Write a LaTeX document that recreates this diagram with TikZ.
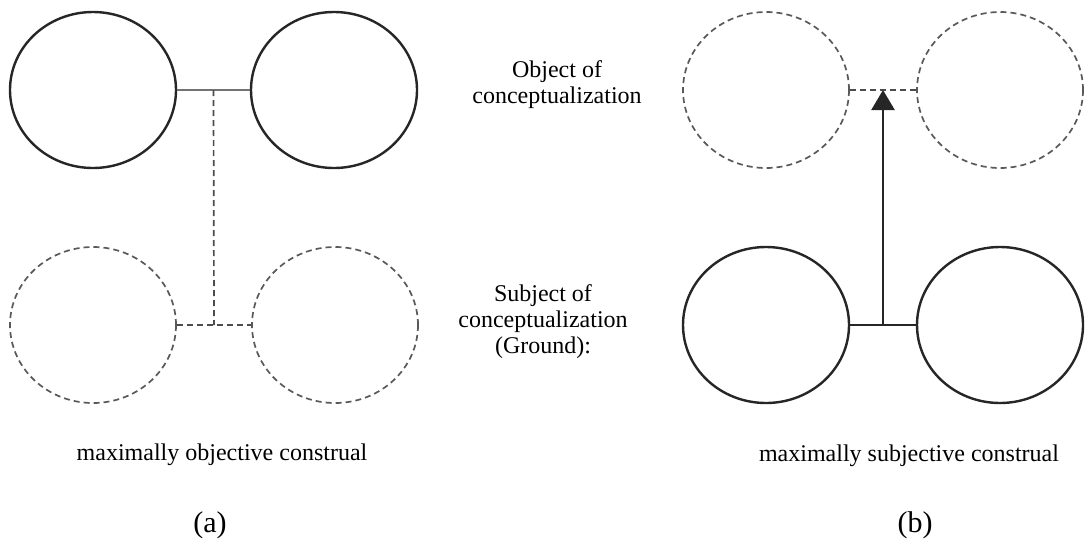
\documentclass[tikz,border=0pt]{standalone}
\usepackage{fontspec}
\setmainfont{Liberation Serif}
\usepackage{tikz}
\usetikzlibrary{arrows.meta,positioning,calc,shapes.geometric}

\begin{document}
\begin{tikzpicture}[
  x=0.5pt, y=-0.5pt,
  solidell/.style={draw=black!85, line width=1.2pt, ellipse, inner sep=0pt,
    minimum width=83pt, minimum height=78pt},
  dashell/.style={draw=black!65, line width=0.85pt, dash pattern=on 3pt off 2pt,
    ellipse, inner sep=0pt, minimum width=83pt, minimum height=78pt},
  thinlink/.style={draw=black!55, line width=0.9pt},
  dashlink/.style={draw=black!70, line width=0.85pt, dash pattern=on 3pt off 2pt},
  boldlink/.style={draw=black!85, line width=1.4pt},
  arr/.style={-{Triangle[length=10pt, width=11.5pt]}, draw=black!85, line width=1.2pt},
  lbl/.style={align=center, font=\fontsize{12}{13}\selectfont},
  tag/.style={font=\fontsize{15}{17}\selectfont}
]
\useasboundingbox (0,0) rectangle (1085,541);

% (a) maximally objective
\node[solidell] (atl) at (93,90)   {};
\node[solidell] (atr) at (334,90)  {};
\node[dashell]  (abl) at (93,325)  {};
\node[dashell]  (abr) at (335,325) {};
\coordinate (amidtop) at ($(atl.east)!0.5!(atr.west)$);
\coordinate (amidbot) at ($(abl.east)!0.5!(abr.west)$);

\draw[thinlink] (atl.east) -- (atr.west);
\draw[dashlink] (abl.east) -- (abr.west);
\draw[dashlink] (amidtop) -- (amidbot);

% (b) maximally subjective
\node[dashell]  (btl) at (766,90)   {};
\node[dashell]  (btr) at (1000,90)  {};
\node[solidell] (bbl) at (766,325)  {};
\node[solidell] (bbr) at (1000,325) {};
\coordinate (bmidtop) at ($(btl.east)!0.5!(btr.west)$);
\coordinate (bmidbot) at ($(bbl.east)!0.5!(bbr.west)$);

\draw[dashlink] (btl.east) -- (btr.west);
\draw[boldlink] (bbl.east) -- (bbr.west);
\draw[arr] (bmidbot) -- (bmidtop);

% labels
\node[lbl] (obj) at (557,85)  {Object of\\conceptualization};
\node[lbl] (subj) at (543,322) {Subject of\\conceptualization\\(Ground):};
\node[lbl] (capa) at (222,455) {maximally objective construal};
\node[lbl] (capb) at (909,456) {maximally subjective construal};
\node[tag] (taga) at (210,525) {(a)};
\node[tag] (tagb) at (915,525) {(b)};
\end{tikzpicture}
\end{document}
